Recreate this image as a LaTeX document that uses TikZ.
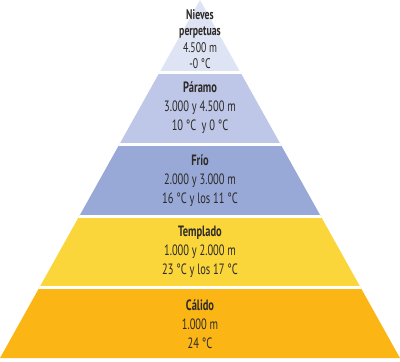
\documentclass[tikz,border=0pt]{standalone}
\usepackage{fontspec}
\setmainfont{PT Sans}[FakeStretch=0.7]
\definecolor{cnieve}{RGB}{222,228,243}
\definecolor{cparamo}{RGB}{190,199,231}
\definecolor{cfrio}{RGB}{152,169,215}
\definecolor{ctemplado}{RGB}{250,214,58}
\definecolor{ccalido}{RGB}{251,182,22}
\definecolor{ctxt}{RGB}{45,42,40}
\begin{document}
\begin{tikzpicture}[x=1bp,y=-1bp,
  lbl/.style={align=center,text=ctxt,inner sep=0pt,font=\fontsize{15}{19}\selectfont},
  lbltop/.style={align=center,text=ctxt,inner sep=0pt,font=\fontsize{14}{16.5}\selectfont},
  gap/.style={draw=white,line width=3bp}]
\useasboundingbox (0,0) rectangle (400,362);
\begin{scope}
  \clip (200,0) -- (0,358) -- (400,358) -- cycle;
  \fill[cnieve] (0,0) rectangle (400,72.5);
  \fill[cparamo] (0,72.5) rectangle (400,144.5);
  \fill[cfrio] (0,144.5) rectangle (400,216.5);
  \fill[ctemplado] (0,216.5) rectangle (400,287.5);
  \fill[ccalido] (0,287.5) rectangle (400,362);
  \draw[gap] (0,72.5) -- (400,72.5);
  \draw[gap] (0,144.5) -- (400,144.5);
  \draw[gap] (0,216.5) -- (400,216.5);
  \draw[gap] (0,287.5) -- (400,287.5);
\end{scope}
\node[lbltop] (nieves) at (200,39) {\textbf{Nieves}\\\textbf{perpetuas}\\4.500 m\\-0 °C};
\node[lbl] (paramo) at (200,108) {\textbf{Páramo}\\3.000 y 4.500 m\\10 °C\, y 0 °C};
\node[lbl] (frio) at (200,181) {\textbf{Frío}\\2.000 y 3.000 m\\16 °C y los 11 °C};
\node[lbl] (templado) at (200,252) {\textbf{Templado}\\1.000 y 2.000 m\\23 °C y los 17 °C};
\node[lbl] (calido) at (200,324) {\textbf{Cálido}\\1.000 m\\24 °C};
\end{tikzpicture}
\end{document}
